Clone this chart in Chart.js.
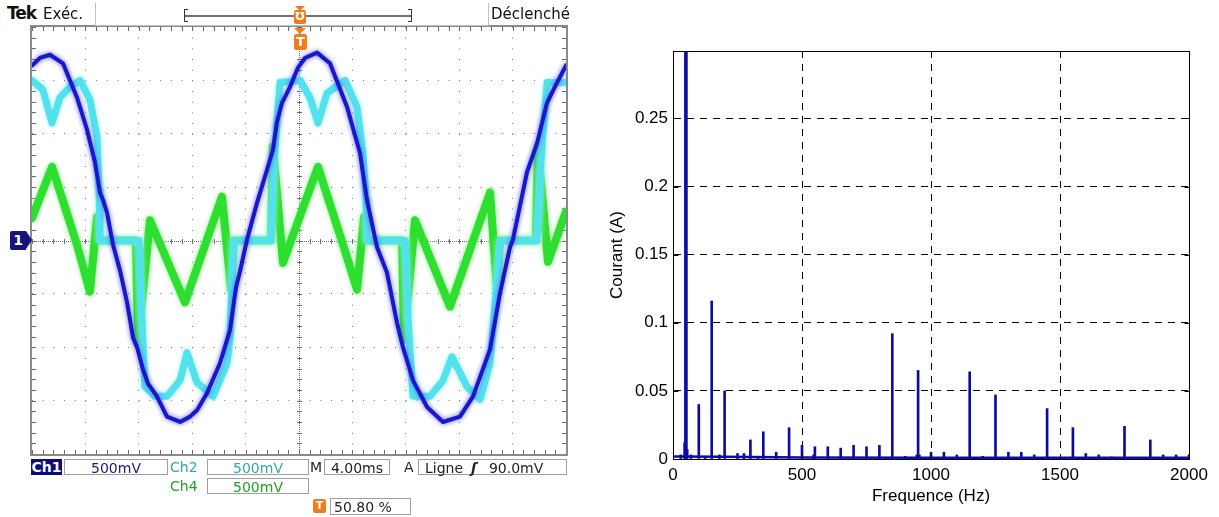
<!DOCTYPE html>
<html><head><meta charset="utf-8">
<script src="https://cdn.jsdelivr.net/npm/chart.js@4.4.1/dist/chart.umd.min.js"></script>
<style>
html,body{margin:0;padding:0;background:#fff;width:1219px;height:517px;overflow:hidden;position:relative;font-family:"DejaVu Sans",sans-serif}
.a{position:absolute;white-space:nowrap;font-size:14px;line-height:16px}
.box{position:absolute;border:1px solid #a0a0a0;background:#fff;box-sizing:border-box;font-size:14px;line-height:14px;text-align:center;white-space:nowrap}
.or{position:absolute;background:#f07c1c;color:#fff;font-weight:bold;font-size:11px;line-height:14px;text-align:center;border-radius:2px}
</style></head><body>
<canvas id="osc" width="534" height="427" style="position:absolute;left:32px;top:27px;width:534px;height:427px"></canvas>
<div style="position:absolute;left:30px;top:25px;width:538px;height:431px;border:2px solid #8a8a8a;box-sizing:border-box"></div>
<canvas id="fft" width="619" height="517" style="position:absolute;left:600px;top:0;width:619px;height:517px"></canvas>

<!-- oscilloscope header -->
<div class="a" style="left:7px;top:5px;font-size:17px;font-weight:bold;letter-spacing:-1px;color:#111">Tek</div>
<div class="a" style="left:43px;top:6px;font-size:15px;color:#111">Exéc.</div>
<div style="position:absolute;left:95px;top:3px;width:392px;height:22px;border-left:1px solid #c0c0c0;border-right:1px solid #c0c0c0;border-bottom:1px solid #c0c0c0"></div>
<div style="position:absolute;left:185px;top:15px;width:226px;height:2px;background:#6c6c94"></div>
<div style="position:absolute;left:184px;top:9px;width:4px;height:13px;border:1px solid #333;border-right:none;box-sizing:border-box"></div>
<div style="position:absolute;left:408px;top:9px;width:4px;height:13px;border:1px solid #333;border-left:none;box-sizing:border-box"></div>
<div style="position:absolute;left:295px;top:6px;width:0;height:0;border-left:5px solid transparent;border-right:5px solid transparent;border-top:5px solid #f07c1c"></div>
<div class="or" style="left:294px;top:10px;width:12px;height:14px">Ʊ</div>
<div class="a" style="left:491px;top:6px;font-size:15px;color:#111">Déclenché</div>
<!-- trigger marker -->
<div style="position:absolute;left:294px;top:28px;width:0;height:0;border-left:6px solid transparent;border-right:6px solid transparent;border-top:6px solid #f07c1c"></div>
<div class="or" style="left:294px;top:34px;width:13px;height:16px;line-height:16px;font-size:13px">T</div>
<!-- channel 1 ground marker -->
<div style="position:absolute;left:10px;top:231px;width:16px;height:19px;background:#14147a;color:#fff;font-weight:bold;font-size:14px;line-height:19px;text-align:center;border-radius:2px 0 0 2px">1</div>
<div style="position:absolute;left:26px;top:231px;width:0;height:0;border-top:9.5px solid transparent;border-bottom:9.5px solid transparent;border-left:6px solid #14147a"></div>
<!-- bottom readouts -->
<div class="a" style="left:31px;top:459px;width:31px;height:16px;background:#0c0c7c;color:#fff;text-align:center;font-weight:bold">Ch1</div>
<div class="box" style="left:64px;top:459px;width:104px;height:16px;color:#1a1a80;padding-top:1px">500mV</div>
<div class="a" style="left:170px;top:459px;color:#33a6ae">Ch2</div>
<div class="box" style="left:207px;top:459px;width:102px;height:16px;color:#33a6ae;padding-top:1px">500mV</div>
<div class="a" style="left:310px;top:459px;color:#222">M</div>
<div class="box" style="left:324px;top:459px;width:66px;height:16px;color:#222;padding-top:1px">4.00ms</div>
<div class="a" style="left:404px;top:459px;color:#222">A</div>
<div class="box" style="left:418px;top:459px;width:149px;height:16px;color:#222;padding-top:1px;text-align:left"><span style="margin-left:6px">Ligne</span><span style="margin-left:8px;font-weight:bold;font-style:italic">ʃ</span><span style="margin-left:12px">90.0mV</span></div>
<div class="a" style="left:170px;top:478px;color:#22a022">Ch4</div>
<div class="box" style="left:207px;top:478px;width:102px;height:16px;color:#22a022;padding-top:1px">500mV</div>
<div class="or" style="left:313px;top:499px;width:13px;height:14px">T</div>
<div class="box" style="left:330px;top:498px;width:81px;height:17px;color:#222;padding-top:1px;text-align:left;padding-left:3px">50.80 %</div>

<script>
// ---------- Oscilloscope traces (time in ms, 4 ms/div; amplitude in V, 500 mV/div) ----------
const ch1Time = [0,0.60,1.35,2.32,3.37,4.12,4.72,5.09,5.32,5.62,6.07,6.59,7.12,7.57,7.87,8.32,8.69,9.36,10.11,11.09,11.84,12.36,13.11,14.08,14.83,15.28,15.58,16.11,16.85,17.60,18.05,18.35,18.73,19.33,19.93,20.45,21.35,22.32,23.60,24.57,25.09,25.84,26.59,27.34,27.79,28.54,29.59,30.79,32.06,33.04,34.31,35.06,35.81,36.03,37.08,37.83,38.58,39.25,40.0];
const ch1Volt = [1.64,1.71,1.74,1.66,1.34,1.04,0.73,0.45,0.38,0.26,-0.04,-0.28,-0.58,-0.91,-1.00,-1.21,-1.34,-1.46,-1.65,-1.70,-1.65,-1.59,-1.43,-1.15,-0.84,-0.44,-0.29,0.01,0.35,0.66,0.85,1.11,1.29,1.44,1.62,1.71,1.76,1.66,1.25,0.82,0.38,-0.06,-0.30,-0.77,-1.00,-1.31,-1.56,-1.70,-1.65,-1.46,-1.02,-0.49,-0.06,0.01,0.64,0.91,1.29,1.46,1.64];

const ch2Time = [0,0.82,1.50,2.10,2.85,3.60,4.34,4.87,5.02,5.09,8.02,8.17,8.46,9.21,10.11,11.09,11.61,12.36,13.56,14.61,14.83,14.98,15.13,17.90,18.13,18.58,20.08,20.82,21.42,22.10,23.45,24.35,24.79,25.02,25.09,27.94,28.17,28.54,29.81,30.79,31.46,32.59,33.56,34.31,34.83,35.06,37.83,38.13,38.58,40.0];
const ch2Volt = [1.50,1.41,1.10,1.34,1.44,1.50,1.32,0.97,0.47,0,0,-0.56,-1.37,-1.46,-1.46,-1.31,-1.05,-1.33,-1.46,-1.15,-0.93,-0.37,0,0,0.75,1.48,1.50,1.34,1.10,1.38,1.50,1.25,0.82,0.38,0,0,-0.74,-1.46,-1.46,-1.31,-1.09,-1.37,-1.49,-1.15,-0.37,0,0,0.75,1.48,1.48];

const ch4Time = [0,1.50,3.37,4.34,4.87,5.09,7.79,7.94,8.84,11.46,14.23,14.91,15.13,17.90,18.05,18.80,21.42,23.30,24.35,24.87,25.09,27.72,27.87,28.69,31.31,34.31,34.83,35.06,37.75,37.90,38.65,40.0];
const ch4Volt = [0.21,0.69,-0.04,-0.48,0.22,0,0,-0.95,0.19,-0.58,0.41,-0.46,0,0,0.88,-0.21,0.69,-0.04,-0.46,0.22,0,0,-0.93,0.19,-0.62,0.45,-0.46,0,0,0.88,-0.20,0.27];

// ---------- Spectrum (Hz, A) ----------
const fundFreq = [50];
const fundAmp  = [0.2995];
const harmFreq = [100,150,200,250,300,350,400,450,500,550,600,650,700,750,800,850,900,950,1000,1050,1100,1150,1200,1250,1300,1350,1400,1450,1500,1550,1600,1650,1700,1750,1800,1850,1900,1950,2000];
const harmAmp  = [0.040,0.116,0.050,0.004,0.014,0.020,0.005,0.023,0.010,0.009,0.009,0.008,0.010,0.009,0.010,0.092,0.002,0.065,0.005,0.005,0.003,0.064,0.002,0.047,0.005,0.005,0.003,0.037,0.001,0.023,0.004,0.003,0.0015,0.024,0.001,0.014,0.003,0.003,0.003];
const sideFreq = [30,45,55,70,125,180,275,330,545,945,955];
const sideAmp  = [0.003,0.012,0.007,0.003,0.002,0.003,0.004,0.002,0.003,0.003,0.003];
const floorFreq = [0,200,500,1000,2000];
const floorAmp  = [0.0018,0.0016,0.0011,0.0009,0.0009];
const xTicks = [0,500,1000,1500,2000];
const yTicks = [0,0.05,0.1,0.15,0.2,0.25];

const pairs = (xs, ys) => xs.map((v, i) => ({x: v, y: ys[i]}));

// ---------- oscilloscope ----------
const graticule = {
  id: 'graticule',
  beforeDatasetsDraw(chart) {
    const {ctx, chartArea: a, scales: {x, y}} = chart;
    ctx.save();
    ctx.strokeStyle = '#6a6a6a';
    ctx.lineWidth = 1;
    const cx = Math.round(x.getPixelForValue(20)) + 0.5;
    const cy = Math.round(y.getPixelForValue(0)) + 0.5;
    ctx.setLineDash([1, 1]);
    ctx.beginPath();
    ctx.moveTo(a.left, cy); ctx.lineTo(a.right, cy);
    ctx.moveTo(cx, a.top); ctx.lineTo(cx, a.bottom);
    ctx.stroke();
    ctx.setLineDash([]);
    ctx.beginPath();
    for (let i = 0; i <= 50; i++) {
      const px = Math.round(x.getPixelForValue(i * 0.8)) + 0.5;
      ctx.moveTo(px, cy - 2.5); ctx.lineTo(px, cy + 2.5);
      ctx.moveTo(px, a.top); ctx.lineTo(px, a.top + 4);
      ctx.moveTo(px, a.bottom); ctx.lineTo(px, a.bottom - 4);
    }
    for (let i = 0; i <= 40; i++) {
      const py = Math.round(y.getPixelForValue(-2 + i * 0.1)) + 0.5;
      ctx.moveTo(cx - 2.5, py); ctx.lineTo(cx + 2.5, py);
      ctx.moveTo(a.left, py); ctx.lineTo(a.left + 4, py);
      ctx.moveTo(a.right, py); ctx.lineTo(a.right - 4, py);
    }
    ctx.stroke();
    ctx.restore();
  }
};
const glow = {
  id: 'glow',
  beforeDatasetDraw(chart, args) {
    const c = chart.ctx; c.save();
    c.shadowColor = chart.data.datasets[args.index].glowColor;
    c.shadowBlur = 5;
  },
  afterDatasetDraw(chart) { chart.ctx.restore(); }
};

new Chart(document.getElementById('osc'), {
  type: 'line',
  data: { datasets: [
    {label: 'Ch1', data: pairs(ch1Time, ch1Volt), borderColor: '#1818c8', glowColor: '#5a5af0', borderWidth: 4, order: 1},
    {label: 'Ch2', data: pairs(ch2Time, ch2Volt), borderColor: '#52e2ee', glowColor: '#9ff0f8', borderWidth: 7, order: 2},
    {label: 'Ch4', data: pairs(ch4Time, ch4Volt), borderColor: '#2fdf2f', glowColor: '#8cf08c', borderWidth: 8, order: 3}
  ]},
  options: {
    responsive: false, animation: false, devicePixelRatio: 1,
    layout: {padding: 0},
    elements: {point: {radius: 0}, line: {tension: 0, borderJoinStyle: 'round', borderCapStyle: 'round'}},
    plugins: {legend: {display: false}, tooltip: {enabled: false}},
    scales: {
      x: {type: 'linear', min: 0, max: 40, ticks: {display: false, stepSize: 4},
          grid: {color: '#7a7a7a', lineWidth: 1, drawTicks: false}, border: {display: false, dash: [1, 9.68]}},
      y: {type: 'linear', min: -2, max: 2, ticks: {display: false, stepSize: 0.5},
          grid: {color: '#7a7a7a', lineWidth: 1, drawTicks: false}, border: {display: false, dash: [1, 9.68]}}
    }
  },
  plugins: [graticule, glow]
});

// ---------- spectrum ----------
const C = '#0c0ca4';
const boxPlugin = {
  id: 'box',
  afterDraw(chart) {
    const {ctx, chartArea: a, scales: {x, y}} = chart;
    ctx.save();
    ctx.strokeStyle = '#000'; ctx.lineWidth = 1;
    const l = Math.round(a.left) + 0.5, r = Math.round(a.right) + 0.5, t = Math.round(a.top) + 0.5, b = Math.round(a.bottom) + 0.5;
    ctx.strokeRect(l, t, r - l, b - t);
    ctx.beginPath();
    xTicks.forEach(v => { const p = Math.round(x.getPixelForValue(v)) + 0.5; ctx.moveTo(p, b); ctx.lineTo(p, b - 5); ctx.moveTo(p, t); ctx.lineTo(p, t + 5); });
    yTicks.forEach(v => { const p = Math.round(y.getPixelForValue(v)) + 0.5; ctx.moveTo(l, p); ctx.lineTo(l + 5, p); ctx.moveTo(r, p); ctx.lineTo(r - 5, p); });
    ctx.stroke();
    ctx.restore();
  }
};
const font = {family: '"Liberation Sans", Arial, sans-serif', size: 17};
new Chart(document.getElementById('fft'), {
  type: 'bar',
  data: { datasets: [
    {type: 'line', data: pairs(floorFreq, floorAmp), borderColor: C, borderWidth: 2.5, pointRadius: 0, order: 4},
    {data: pairs(fundFreq, fundAmp), backgroundColor: C, barThickness: 3, grouped: false, order: 1},
    {data: pairs(harmFreq, harmAmp), backgroundColor: C, barThickness: 2, grouped: false, order: 2},
    {data: pairs(sideFreq, sideAmp), backgroundColor: C, barThickness: 2, grouped: false, order: 3}
  ]},
  options: {
    responsive: false, animation: false, devicePixelRatio: 1,
    layout: {padding: {left: 0, top: 51, right: 30, bottom: 0}},
    plugins: {legend: {display: false}, tooltip: {enabled: false}},
    scales: {
      x: {type: 'linear', min: 0, max: 2000, offset: false,
          afterBuildTicks: s => { s.ticks = xTicks.map(v => ({value: v})); },
          ticks: {color: '#000', font, padding: 6, maxRotation: 0, autoSkip: false, callback: v => String(v)},
          grid: {color: '#000', lineWidth: 1, drawTicks: false, offset: false},
          border: {color: '#000', dash: [7, 6]},
          title: {display: true, text: 'Frequence (Hz)', color: '#000', font, padding: {top: 0, bottom: 10}},
          afterFit: s => { s.height = 58; }},
      y: {type: 'linear', min: 0, max: 0.2995,
          afterBuildTicks: s => { s.ticks = yTicks.map(v => ({value: v})); },
          ticks: {color: '#000', font, padding: 5, callback: v => String(+Number(v).toFixed(2))},
          grid: {color: '#000', lineWidth: 1, drawTicks: false},
          border: {color: '#000', dash: [7, 6]},
          title: {display: true, text: 'Courant (A)', color: '#000', font, padding: {top: 7, bottom: 0}},
          afterFit: s => { s.width = 73; }}
    }
  },
  plugins: [boxPlugin]
});
</script>
</body></html>
